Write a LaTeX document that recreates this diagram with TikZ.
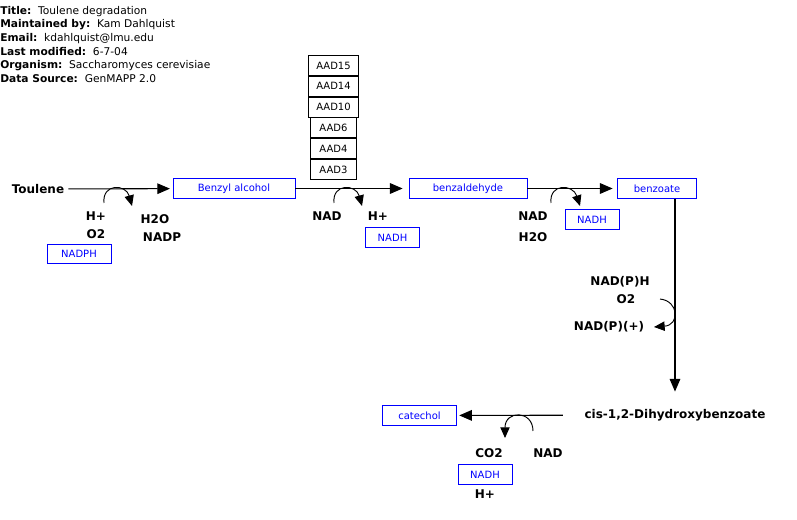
\documentclass[tikz,border=0pt]{standalone}
\usepackage{fontspec}
\setmainfont{DejaVu Sans}
\usetikzlibrary{arrows.meta,positioning}

\tikzset{
  metab/.style={draw=blue, text=blue, rectangle, minimum height=14.5pt, inner sep=1pt, line width=0.6pt, font=\fontsize{7.5}{9}\selectfont},
  gene/.style={draw, rectangle, minimum height=15pt, inner sep=1pt, line width=0.6pt, font=\fontsize{7.5}{9}\selectfont},
  cofac/.style={font=\bfseries\fontsize{9}{11}\selectfont, inner sep=1pt},
  pathway/.style={-{Triangle[length=9.5pt,width=8pt]}, line width=0.8pt},
  sidearc/.style={-{Triangle[length=8pt,width=7pt]}, line width=0.7pt},
}

\begin{document}
\begin{tikzpicture}[x=0.75pt, y=-0.75pt]
  \useasboundingbox (0,0) rectangle (797,520);

  % header
  \node (info) [anchor=north west, inner sep=0pt, align=left, font=\fontsize{8}{10.2}\selectfont] at (0,6)
    {\textbf{Title:}~~Toulene degradation\\
     \textbf{Maintained by:}~~Kam Dahlquist\\
     \textbf{Email:}~~kdahlquist@lmu.edu\\
     \textbf{Last modified:}~~6-7-04\\
     \textbf{Organism:}~~Saccharomyces cerevisiae\\
     \textbf{Data Source:}~~GenMAPP 2.0};

  % main pathway
  \node (toulene) [cofac] at (38,189) {Toulene};
  \node (benzylalc) [metab, minimum width=91.5pt] at (234,188.5) {Benzyl alcohol};
  \node (benzald) [metab, minimum width=88.5pt] at (468,188.5) {benzaldehyde};
  \node (benzoate) [metab, minimum width=59pt] at (657,188.5) {benzoate};
  \node (dihydro) [cofac] at (675,415) {cis-1,2-Dihydroxybenzoate};
  \node (catechol) [metab, minimum width=55pt] at (419.5,415.5) {catechol};

  \draw[pathway, shorten <=2pt, shorten >=2pt] (toulene) -- (benzylalc);
  \draw[pathway, shorten >=4.5pt] (benzylalc) -- (benzald);
  \draw[pathway, shorten >=3.5pt] (benzald) -- (benzoate);
  \draw[pathway, shorten >=12pt] (benzoate.south -| dihydro) -- (dihydro.north);
  \draw[pathway, shorten <=15pt, shorten >=2pt] (dihydro) -- (catechol);

  % genes
  \node (aad15) [gene, minimum width=38pt] at (333.5,65.5) {AAD15};
  \node (aad14) [gene, minimum width=38pt, below=0pt of aad15] {AAD14};
  \node (aad10) [gene, minimum width=38pt, below=0pt of aad14] {AAD10};
  \node (aad6) [gene, minimum width=35pt, below=0pt of aad10] {AAD6};
  \node (aad4) [gene, minimum width=35pt, below=0pt of aad6] {AAD4};
  \node (aad3) [gene, minimum width=35pt, below=0pt of aad4] {AAD3};

  % step 1
  \node (hplus1) [cofac] at (96,216) {H+};
  \node (oxy1) [cofac] at (96,234) {O2};
  \node (nadph1) [metab, minimum width=48pt] at (79,254) {NADPH};
  \node (water1) [cofac] at (155,219) {H2O};
  \node (nadp1) [cofac] at (162,237) {NADP};
  \coordinate (arc1a) at (104,203);
  \coordinate (arc1b) at (132,206);
  \draw[sidearc] (arc1a) .. controls (102,183) and (126,184) .. (arc1b);

  % step 2
  \node (nad2) [cofac] at (327,216) {NAD};
  \node (hplus2) [cofac] at (378,216) {H+};
  \node (nadh2) [metab, minimum width=40pt] at (392.5,237.5) {NADH};
  \coordinate (arc2a) at (334,203);
  \coordinate (arc2b) at (362,206);
  \draw[sidearc] (arc2a) .. controls (332,183) and (356,184) .. (arc2b);

  % step 3
  \node (nad3) [cofac] at (533,216) {NAD};
  \node (water3) [cofac] at (533,237) {H2O};
  \node (nadh3) [metab, minimum width=40.5pt] at (592,219.5) {NADH};
  \coordinate (arc3a) at (551,203);
  \coordinate (arc3b) at (580,206);
  \draw[sidearc] (arc3a) .. controls (549,183) and (573,184) .. (arc3b);

  % step 4
  \node (nadph4) [cofac] at (620,282) {NAD(P)H};
  \node (oxy4) [cofac] at (626,299) {O2};
  \node (nadp4) [cofac] at (609,327) {NAD(P)(+)};
  \coordinate (arc4a) at (660,299);
  \coordinate (arc4b) at (654,327);
  \draw[sidearc] (arc4a) .. controls (679,301) and (680,325) .. (arc4b);

  % step 5
  \node (carb5) [cofac] at (489,453) {CO2};
  \node (nad5) [cofac] at (548,453) {NAD};
  \node (nadh5) [metab, minimum width=40.5pt] at (485,474.5) {NADH};
  \node (hplus5) [cofac] at (485,494) {H+};
  \coordinate (arc5a) at (533,431);
  \coordinate (arc5b) at (505,438);
  \draw[sidearc] (arc5a) .. controls (533,410) and (505,410) .. (arc5b);
\end{tikzpicture}
\end{document}
